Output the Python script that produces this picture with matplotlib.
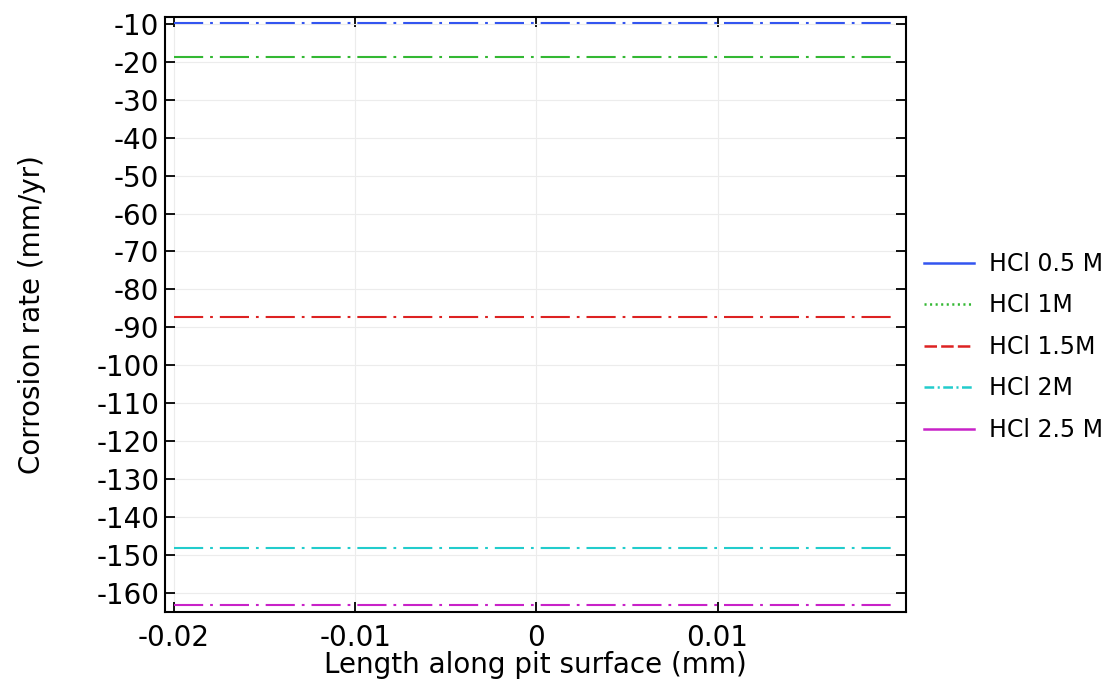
import matplotlib.pyplot as plt
from matplotlib.lines import Line2D

plt.rcParams['font.family'] = 'DejaVu Sans'
plt.rcParams['lines.scale_dashes'] = False

# data
x = [-0.02, 0.0197]
labels = ["HCl 0.5 M", "HCl 1M", "HCl 1.5M", "HCl 2M", "HCl 2.5 M"]
rates = [-9.7, -18.7, -87.3, -148.2, -163.3]
colors = ['#3355f0', '#33b833', '#dd2222', '#22cccc', '#c822c8']
legend_styles = ['-', (0, (1.5, 2.5)), (0, (9, 3)), (0, (7, 2.5, 1.5, 2.5)), '-']

xticks = [-0.02, -0.01, 0, 0.01]
xticklabels = ['-0.02', '-0.01', '0', '0.01']
yticks = list(range(-160, 0, 10))

fig = plt.figure(figsize=(11.08, 6.79), dpi=100)
ax = fig.add_axes([165/1108, 67/679, 741/1108, 595/679])

for r, c in zip(rates, colors):
    ax.plot(x, [r, r], color=c, lw=1.5, linestyle=(0, (21, 5, 2, 5)))

ax.set_xlim(-0.0205, 0.0204)
ax.set_ylim(-165.1, -8.15)
ax.set_xticks(xticks)
ax.set_xticklabels(xticklabels)
ax.set_yticks(yticks)
ax.set_yticklabels([str(v) for v in yticks])
ax.grid(True, color='#ececec', lw=0.8)
ax.tick_params(direction='in', length=7, width=1.3, top=True, right=True,
               labelsize=20)
ax.tick_params(axis='x', pad=9)
ax.tick_params(axis='y', pad=4)
for s in ax.spines.values():
    s.set_linewidth(1.5)

ax.set_xlabel("Length along pit surface (mm)", fontsize=20, labelpad=-1)
ax.set_ylabel("Corrosion rate (mm/yr)", fontsize=20, labelpad=36)

handles = [Line2D([], [], color=c, lw=1.8, linestyle=ls)
           for c, ls in zip(colors, legend_styles)]
fig.legend(handles, labels, loc='center left', bbox_to_anchor=(0.815, 0.489),
           frameon=False, fontsize=17, handlelength=2.1, labelspacing=0.74,
           handletextpad=0.65)

plt.savefig("out.png", dpi=100)
